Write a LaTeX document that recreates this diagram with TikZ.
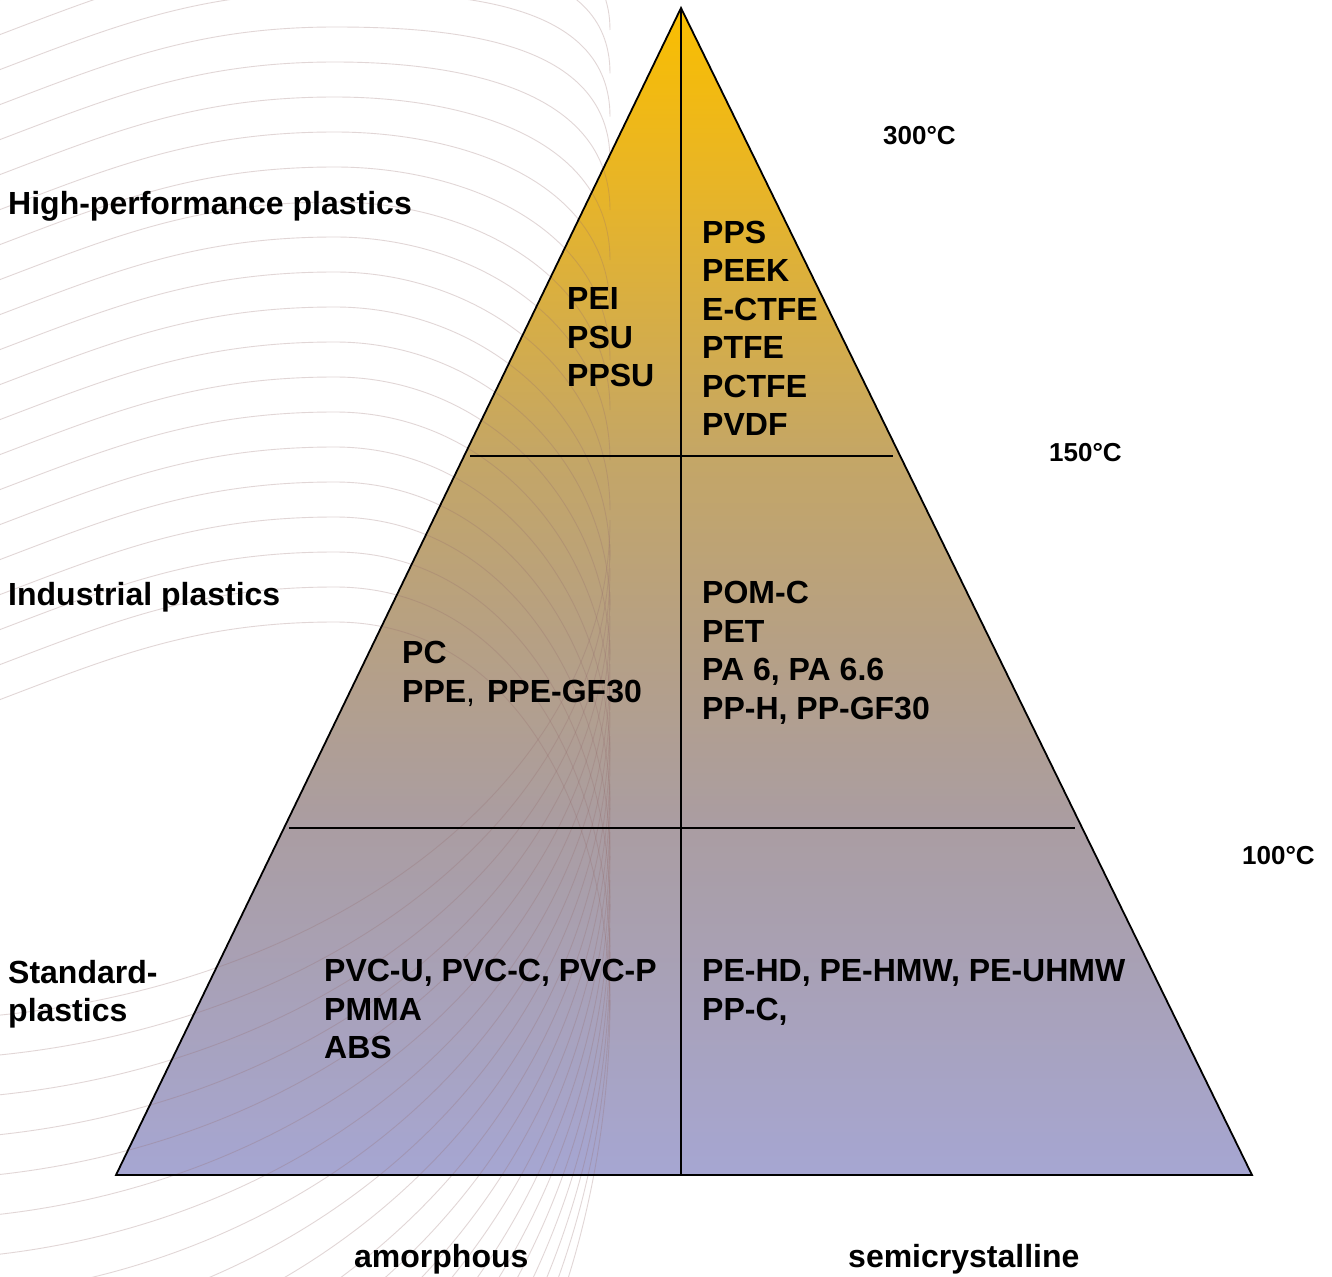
\documentclass[tikz,border=0pt]{standalone}
\usepackage{fontspec}
\setmainfont{Liberation Sans}
\definecolor{arcc}{RGB}{150,110,110}
\definecolor{gA}{RGB}{166,166,210}
\definecolor{gB}{RGB}{170,157,162}
\definecolor{gC}{RGB}{182,160,132}
\definecolor{gD}{RGB}{196,166,102}
\definecolor{gE}{RGB}{230,180,42}
\definecolor{gF}{RGB}{250,190,0}
\pgfdeclareverticalshading{pyrshade}{100bp}{%
  color(0bp)=(gA);
  color(25bp)=(gA);
  color(39.9bp)=(gB);
  color(47.9bp)=(gC);
  color(55.8bp)=(gD);
  color(66.8bp)=(gE);
  color(75bp)=(gF);
  color(100bp)=(gF)}
\tikzset{
  lab/.style={font=\fontsize{32}{38}\selectfont\bfseries, inner sep=0pt, anchor=base west},
  temp/.style={font=\fontsize{26}{31}\selectfont\bfseries, inner sep=0pt, anchor=base west},
  edgeline/.style={line width=1.8pt, black},
  bgarc/.style={draw=arcc, line width=0.9pt, opacity=0.28},
}
\begin{document}
\begin{tikzpicture}[x=1pt,y=1pt]
\useasboundingbox (0,0) rectangle (1332,-1276);
\fill[white] (0,0) rectangle (1332,-1276);
% pyramid corners
\coordinate (A) at (681,-8);
\coordinate (L) at (116,-1175);
\coordinate (R) at (1252,-1175);
\coordinate (B) at (681,-1175);
% gradient fill
\shade[shading=pyrshade] (A) -- (R) -- (L) -- cycle;
% decorative background arcs
\begin{scope}
  \clip (0,0) rectangle (1332,-1276);
  \foreach \i in {-3,...,17} {
    \pgfmathsetmacro\yt{27+35*\i}
    \pgfmathsetmacro\yr{max(160+50*\i,30+130*(\i+3)/3)}
    \draw[bgarc] (-60,-\yt-100) to[out=20,in=180] (335,-\yt) to[out=0,in=90] (610,-\yr);
  }
  \foreach \j in {0,...,20} {
    \pgfmathsetmacro\yr{520+24*\j}
    \pgfmathsetmacro\bb{500+16*\j}
    \draw[bgarc] (610,-\yr) arc[start angle=0, end angle=-90, x radius=710, y radius=\bb];
  }
\end{scope}
% outline and divisions
\draw[edgeline, line join=miter] (A) -- (R) -- (L) -- cycle;
\draw[edgeline] (A) -- (B);
\coordinate (h1l) at (470,-456);
\coordinate (h1r) at (893,-456);
\coordinate (h2l) at (289,-828);
\coordinate (h2r) at (1075,-828);
\draw[edgeline] (h1l) -- (h1r);
\draw[edgeline] (h2l) -- (h2r);
% side labels
\node[lab] (hp) at (8,-214) {High-performance plastics};
\node[lab] (ind) at (8,-605.5) {Industrial plastics};
\node[lab] (std1) at (8,-983.5) {Standard-};
\node[lab] (std2) at (8,-1021.5) {plastics};
% temperatures
\node[temp] (t300) at (883,-144.3) {300°C};
\node[temp] (t150) at (1049,-461.3) {150°C};
\node[temp] (t100) at (1242,-864.3) {100°C};
% bottom labels
\node[lab] (amo) at (354,-1267) {amorphous};
\node[lab] (semi) at (848,-1267) {semicrystalline};
% materials
\foreach \t [count=\i] in {PEI,PSU,PPSU}
  \node[lab] (hpa\i) at (567,{-309.5-38.5*(\i-1)}) {\t};
\foreach \t [count=\i] in {PPS,PEEK,E-CTFE,PTFE,PCTFE,PVDF}
  \node[lab] (hps\i) at (702,{-243.5-38.4*(\i-1)}) {\t};
\foreach \t [count=\i] in {PC,{PPE{\mdseries,}\hspace{12pt}PPE-GF30}}
  \node[lab] (ina\i) at (402,{-663.5-38.5*(\i-1)}) {\t};
\foreach \t [count=\i] in {POM-C,PET,{PA 6, PA 6.6},{PP-H, PP-GF30}}
  \node[lab] (ins\i) at (702,{-603.5-38.5*(\i-1)}) {\t};
\foreach \t [count=\i] in {{PVC-U, PVC-C, PVC-P},PMMA,ABS}
  \node[lab] (sta\i) at (324,{-981.5-38.5*(\i-1)}) {\t};
\foreach \t [count=\i] in {{PE-HD, PE-HMW, PE-UHMW},{PP-C,}}
  \node[lab] (sts\i) at (702,{-981.5-38.5*(\i-1)}) {\t};
\end{tikzpicture}
\end{document}
